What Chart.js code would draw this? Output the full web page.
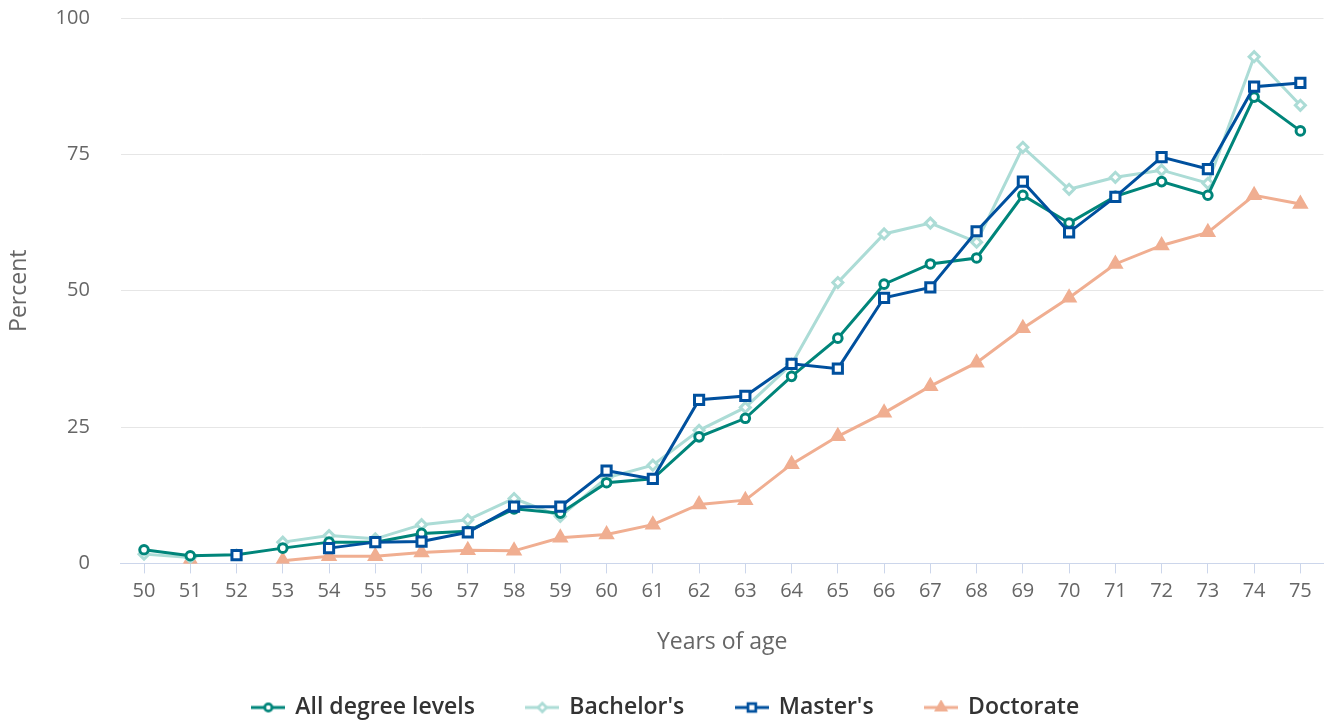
<!DOCTYPE html>
<html>
<head>
<meta charset="utf-8">
<script src="https://cdn.jsdelivr.net/npm/chart.js@4"></script>
<style>
  html, body { margin: 0; padding: 0; background: #fff; }
  #wrap { width: 1333px; height: 721px; position: relative; }
</style>
</head>
<body>
<div id="wrap"><canvas id="grafik"></canvas></div>
<script>
// Data
const ages = ['50','51','52','53','54','55','56','57','58','59','60','61','62','63','64','65','66','67','68','69','70','71','72','73','74','75'];
const allDegrees = [2.5, 1.4, 1.6, 2.8, 3.9, 3.9, 5.5, 5.9, 10.0, 9.2, 14.8, 15.5, 23.2, 26.6, 34.3, 41.3, 51.2, 54.9, 56.0, 67.5, 62.4, 67.3, 70.0, 67.5, 85.5, 79.3];
const bachelors = [1.7, 1.1, null, 3.9, 5.1, 4.5, 7.1, 8.0, 11.9, 8.6, 15.7, 18.0, 24.4, 28.6, 36.5, 51.5, 60.4, 62.4, 58.9, 76.3, 68.6, 70.8, 72.1, 69.7, 92.9, 84.0];
const masters = [null, null, 1.5, null, 2.8, 3.9, 4.0, 5.7, 10.4, 10.4, 17.0, 15.5, 30.0, 30.7, 36.6, 35.7, 48.7, 50.6, 60.9, 70.0, 60.7, 67.2, 74.5, 72.3, 87.4, 88.1];
const doctorate = [null, 0.6, null, 0.5, 1.3, 1.3, 2.0, 2.4, 2.3, 4.7, 5.3, 7.1, 10.8, 11.6, 18.2, 23.3, 27.6, 32.5, 36.8, 43.1, 48.7, 54.9, 58.3, 60.7, 67.5, 65.9];
const yTicks = [0, 25, 50, 75, 100];

const FONT = "'Open Sans', 'Noto Sans', sans-serif";

const series = [
  { label: 'All degree levels', data: allDegrees, color: '#00857a', style: 'circle', radius: 4.3, fill: '#ffffff', border: 3, order: 1 },
  { label: "Bachelor's", data: bachelors, color: '#acdcd6', style: 'rectRot', radius: 5, fill: '#ffffff', border: 3, order: 2 },
  { label: "Master's", data: masters, color: '#00509e', style: 'rect', radius: 6.5, fill: '#ffffff', border: 3, order: 0 },
  { label: 'Doctorate', data: doctorate, color: '#f0ae91', style: 'triangle', radius: 7.5, fill: '#f0ae91', border: 2, order: 3 }
];

// small line+marker symbol for the legend
function legendSymbol(s) {
  const c = document.createElement('canvas');
  c.width = 34; c.height = 16;
  const g = c.getContext('2d');
  g.strokeStyle = s.color;
  g.lineWidth = 3;
  g.beginPath(); g.moveTo(0, 8); g.lineTo(34, 8); g.stroke();
  Chart.helpers.drawPoint(g, { pointStyle: s.style, radius: s.radius * 0.85 }, 17, 8);
  g.fillStyle = s.fill;
  g.lineWidth = s.border * 0.9;
  g.fill();
  g.stroke();
  return c;
}

const ctx = document.getElementById('grafik').getContext('2d');

new Chart(ctx, {
  type: 'line',
  data: {
    labels: ages,
    datasets: series.map(s => ({
      label: s.label,
      data: s.data,
      borderColor: s.color,
      backgroundColor: s.fill,
      pointBackgroundColor: s.fill,
      pointBorderColor: s.color,
      pointStyle: s.style,
      pointRadius: s.radius,
      pointBorderWidth: s.border,
      borderWidth: 3,
      tension: 0,
      spanGaps: false,
      order: s.order
    }))
  },
  options: {
    responsive: true,
    maintainAspectRatio: false,
    animation: false,
    layout: { padding: { top: 18, right: 5, left: 4, bottom: -8 } },
    scales: {
      x: {
        offset: true,
        grid: { offset: false, drawOnChartArea: false, drawTicks: true, tickLength: 10, color: '#ccd6eb' },
        border: { color: '#ccd6eb', width: 1 },
        ticks: { color: '#666666', font: { family: FONT, size: 20 }, padding: 6, autoSkip: false, maxRotation: 0 },
        title: { display: true, text: 'Years of age', color: '#666666', font: { family: FONT, size: 23 }, padding: { top: 19, bottom: -12 } }
      },
      y: {
        min: 0, max: 100,
        afterBuildTicks: (axis) => { axis.ticks = yTicks.map(v => ({ value: v })); },
        grid: { color: '#e6e6e6', drawTicks: true, tickLength: 30, tickColor: 'rgba(0,0,0,0)' },
        border: { display: false },
        ticks: { color: '#666666', font: { family: FONT, size: 20 }, padding: 1 },
        title: { display: true, text: 'Percent', color: '#666666', font: { family: FONT, size: 23 }, padding: { top: 2, bottom: 21 } }
      }
    },
    plugins: {
      legend: {
        position: 'bottom',
        labels: {
          usePointStyle: true,
          pointStyleWidth: 31,
          padding: 52,
          color: '#333333',
          font: { family: FONT, size: 23, weight: '600' },
          generateLabels: (chart) => series.map((s, i) => ({
            text: s.label,
            pointStyle: legendSymbol(s),
            fillStyle: s.color,
            strokeStyle: s.color,
            fontColor: '#333333',
            lineWidth: 0,
            hidden: !chart.isDatasetVisible(i),
            datasetIndex: i
          }))
        }
      },
      tooltip: { enabled: false }
    }
  }
});
</script>
</body>
</html>
